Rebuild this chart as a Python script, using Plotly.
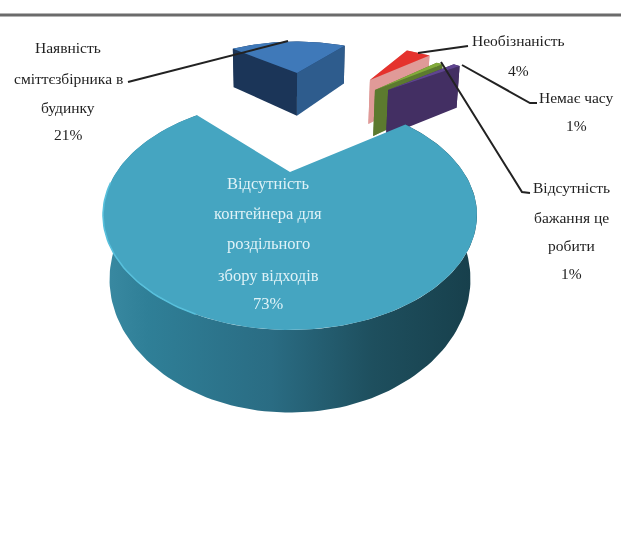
import numpy as np
import plotly.graph_objects as go

# --- data (clockwise from the first slice after the gap) ---
categories = ["Наявність сміттєзбірника в будинку", "Необізнаність", "Відсутність бажання це робити",
              "Немає часу", "Відсутність контейнера для роздільного збору відходів"]
values = [21, 4, 1, 1, 73]
percent_labels = ["21%", "4%", "1%", "1%", "73%"]

# --- styling / view ---
W, H = 621, 556
CX, TIP_Y, K, A, R = 290.0, 172.0, 0.374, 34.6, 173.4   # perspective of the pie plane
START_ANGLE = -43.0
DEPTH, DEPTH_P = 59.5, 0.70
pull = [(0.065, -1.6), (0.707, -1.426), (0.71, -1.2), (0.82, -1.2), (0.0, 0.0)]
top_col = ["#3f79b9", "#e5322d", "#82ab3a", "#5f4590", "#45a5c1"]
left_col = ["#1b3558", "#d98f8c", "#5a7430", "#3f2c5e", "#2e7f97"]
right_col = ["#2e5c8d", "#e09a98", "#5c7a2f", "#432f63", "#2e7f97"]


def project(u, v):
    w = 1 - K * v
    return CX + R * u / w, (A * v + TIP_Y) / w


def lower(x, y, u, v):
    w = 1 - K * v
    s = 1 - 0.03 / w
    return CX + (x - CX) * s, y + DEPTH / w ** DEPTH_P


def face(x, y, color, **kw):
    return go.Scatter(x=x, y=y, mode="lines", fill="toself", fillcolor=color,
                      line=dict(width=0, color=color), hoverinfo="skip", showlegend=False, **kw)


def slice_traces(i, a0, a1):
    du, dv = pull[i]
    n = max(4, int(abs(a1 - a0) / 1.5))
    th = np.radians(np.linspace(a0, a1, n))
    u = du + np.sin(th)
    v = dv - np.cos(th)
    x, y = project(u, v)
    tx, ty = project(np.array([du]), np.array([dv]))
    xl, yl = lower(x, y, u, v)
    txl, tyl = lower(tx, ty, np.array([du]), np.array([dv]))
    out = []
    if i == 4:
        # curved outer wall with a left-to-right shading
        out.append(go.Scatter(
            x=np.r_[x, xl[::-1], x[0]], y=np.r_[y, yl[::-1], y[0]], mode="lines", fill="toself",
            line=dict(width=0, color="#2a6a80"), hoverinfo="skip", showlegend=False,
            fillgradient=dict(type="horizontal", colorscale=[
                [0, "#3a8aa2"], [0.12, "#2f7f97"], [0.45, "#2a6c83"], [0.72, "#1e4f5e"], [1, "#173f4b"]]),
        ))
    else:
        out.append(face(np.r_[x, xl[::-1]], np.r_[y, yl[::-1]], left_col[i]))
        out.append(face(np.r_[tx, x[0], xl[0], txl], np.r_[ty, y[0], yl[0], tyl], left_col[i]))
        out.append(face(np.r_[tx, x[-1], xl[-1], txl], np.r_[ty, y[-1], yl[-1], tyl], right_col[i]))
    out.append(face(np.r_[tx, x, tx], np.r_[ty, y, ty], top_col[i]))
    if i == 4:
        # lit rim along the near-left edge of the top face
        m = (np.degrees(th) > 200) & (np.degrees(th) < 265)
        out.append(go.Scatter(x=x[m], y=y[m], mode="lines", line=dict(color="#58c0dc", width=1.6),
                              hoverinfo="skip", showlegend=False))
    return out


fig = go.Figure()
fractions = np.array(values, float) / sum(values)
edges = START_ANGLE + np.r_[0, np.cumsum(fractions)] * 360
draw_order = [0, 1, 2, 3, 4]
for i in draw_order:
    for t in slice_traces(i, edges[i], edges[i + 1]):
        fig.add_trace(t)

# leader lines
leaders = [
    ([128, 288], [82, 41]),
    ([418, 468], [53, 46]),
    ([462, 530, 537], [65, 103, 103]),
    ([441, 522, 530], [62, 192, 193]),
]
for lx, ly in leaders:
    fig.add_trace(go.Scatter(x=lx, y=ly, mode="lines", line=dict(color="#222222", width=2),
                             hoverinfo="skip", showlegend=False))

# top rule
fig.add_trace(go.Scatter(x=[0, W], y=[15, 15], mode="lines", line=dict(color="#6b6b6b", width=3),
                         hoverinfo="skip", showlegend=False))

# labels, one annotation per line
text_blocks = [
    (68, [47, 78, 107, 134], ["Наявність", "сміттєзбірника в", "будинку", percent_labels[0]], "#222222", 15.5),
    (518, [40, 70], ["Необізнаність", percent_labels[1]], "#222222", 15.5),
    (576, [97, 125], ["Немає часу", percent_labels[3]], "#222222", 15.5),
    (571, [187, 217, 245, 273], ["Відсутність", "бажання це", "робити", percent_labels[2]], "#222222", 15.5),
    (268, [183, 213, 243, 275, 303],
     ["Відсутність", "контейнера для", "роздільного", "збору відходів", percent_labels[4]], "#dff2f7", 16.5),
]
for cx, ys, lines, col, size in text_blocks:
    for yy, s in zip(ys, lines):
        fig.add_annotation(x=cx, y=yy, text=s, showarrow=False, xanchor="center", yanchor="middle",
                           font=dict(family="Liberation Serif", size=size, color=col))

fig.update_layout(
    width=W, height=H, margin=dict(l=0, r=0, t=0, b=0), showlegend=False,
    paper_bgcolor="white", plot_bgcolor="white",
    xaxis=dict(range=[0, W], visible=False, fixedrange=True),
    yaxis=dict(range=[H, 0], visible=False, fixedrange=True),
)
fig.write_html("out.html", config={"displayModeBar": False},
               post_script="document.body.style.margin='0';document.body.style.filter='blur(0.7px)';")
